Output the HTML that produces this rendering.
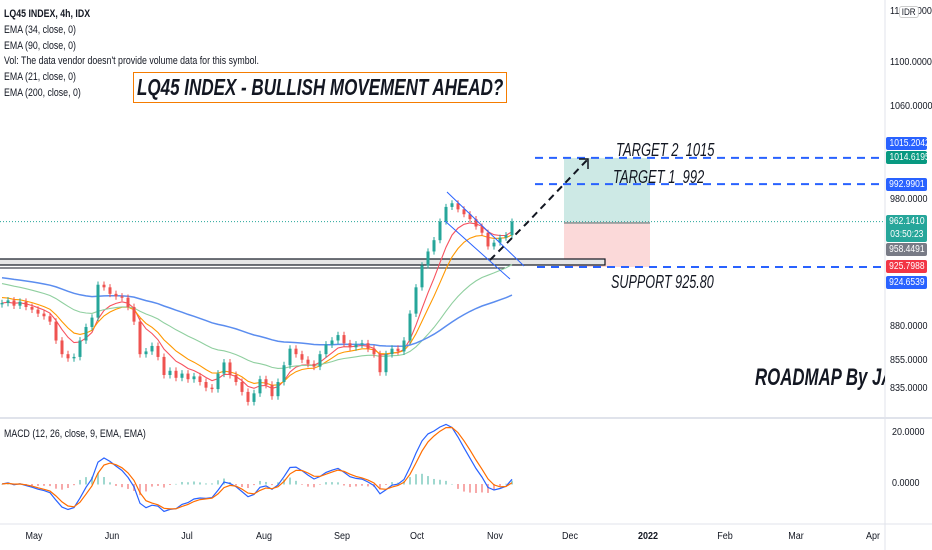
<!DOCTYPE html>
<html><head><meta charset="utf-8"><style>
html,body{margin:0;padding:0;background:#fff;}
#wrap{position:relative;width:932px;height:550px;overflow:hidden;font-family:"Liberation Sans",sans-serif;}
.lg{position:absolute;left:4px;font-size:11px;color:#131722;white-space:nowrap;transform:scaleX(0.8);transform-origin:left;}
.ax{position:absolute;font-size:10px;color:#131722;white-space:nowrap;transform:scaleX(0.9);transform-origin:left;}
.tm{position:absolute;font-size:10px;color:#131722;white-space:nowrap;transform:translateX(-50%) scaleX(0.9);}
.pl{position:absolute;left:886px;width:41px;font-size:10px;color:#fff;text-align:center;border-radius:2px;line-height:13px;overflow:hidden;}
.pl span{display:inline-block;transform:scaleX(0.85);}
.note{position:absolute;font-style:italic;color:#131722;white-space:nowrap;transform-origin:left;}
</style></head><body>
<div id="wrap">
<svg id="svg" width="932" height="550" style="position:absolute;left:0;top:0"></svg>

<div class="lg" style="top:8px;font-weight:bold">LQ45 INDEX, 4h, IDX</div>
<div class="lg" style="top:24px">EMA (34, close, 0)</div>
<div class="lg" style="top:40px">EMA (90, close, 0)</div>
<div class="lg" style="top:55px">Vol: The data vendor doesn't provide volume data for this symbol.</div>
<div class="lg" style="top:71px">EMA (21, close, 0)</div>
<div class="lg" style="top:87px">EMA (200, close, 0)</div>
<div class="lg" style="top:428px">MACD (12, 26, close, 9, EMA, EMA)</div>

<div style="position:absolute;left:133px;top:72px;width:372px;height:29px;border:1.5px solid #f57c00;background:#fff"></div>
<div class="note" style="left:137px;top:74px;font-size:23px;line-height:27px;font-weight:bold;transform:scaleX(0.74)">LQ45 INDEX - BULLISH MOVEMENT AHEAD?</div>
<div class="note" style="left:616px;top:140px;font-size:18px;transform:scaleX(0.72)">TARGET 2&nbsp; 1015</div>
<div class="note" style="left:613px;top:167px;font-size:18px;transform:scaleX(0.72)">TARGET 1&nbsp; 992</div>
<div class="note" style="left:611px;top:272px;font-size:18px;transform:scaleX(0.7)">SUPPORT 925.80</div>
<div style="position:absolute;left:0;top:360px;width:885px;height:40px;overflow:hidden"><div class="note" style="left:755px;top:4px;font-size:24px;font-weight:bold;transform:scaleX(0.7)">ROADMAP By JAGOCUAN</div></div>

<div class="ax" style="left:890px;top:6px">1150.0000</div>
<div class="ax" style="left:899px;top:6px;border:1px solid #ccc;border-radius:3px;background:#fff;padding:0 2px;font-size:9px">IDR</div>

<div class="pl" style="top:137px;background:#2962ff"><span>1015.2042</span></div>
<div class="pl" style="top:151px;background:#089981"><span>1014.6195</span></div>
<div class="pl" style="top:178px;background:#2962ff"><span>992.9901</span></div>
<div class="pl" style="top:215px;background:#26a69a;height:27px"><span>962.1410<br>03:50:23</span></div>
<div class="pl" style="top:243px;background:#787b86"><span>958.4491</span></div>
<div class="pl" style="top:260px;background:#f23645"><span>925.7988</span></div>
<div class="pl" style="top:276px;background:#2962ff"><span>924.6539</span></div>
</div>
<script>
// ---- data ----
const closes = [898,900,896,899,895,893,890,888,884,870,860,857,858,870,880,887,912,910,905,903,902,895,884,860,862,866,858,845,848,843,846,842,844,840,836,835,846,854,845,840,833,826,832,842,838,830,840,852,864,860,856,853,851,860,867,870,874,868,865,867,868,864,860,847,860,864,862,870,890,910,927,938,947,962,974,977,972,968,964,958,953,942,945,949,951,962];
const firstOpen = 897;
const emaPeriods = [21,34,90,200];
const emaSeeds = [898,903,914,918];
const emaColors = ['#f7525f','#ff9800','#8fcf9f','#5b8def'];
const priceTicks = [1100,1060,980,880,855,835];
const priceTickLabels = ['1100.0000','1060.0000','980.0000','880.0000','855.0000','835.0000'];
const macdTicks = [20,0];
const macdTickLabels = ['20.0000','0.0000'];
const months = ['May','Jun','Jul','Aug','Sep','Oct','Nov','Dec','2022','Feb','Mar','Apr'];
const monthDay = [0,31,61,92,123,153,184,214,245,276,304,335]; // days since May 1
const levels = [1015.2,992.99,925.8];
const barsPerScale = 3.3;

// ---- scales ----
const xBar = i => i*6 + 2;
const xDay = d => 34 + d*2.505;
const yP = p => 63 + (Math.log(1100) - Math.log(p))*1183;
const yM = v => 484 - v*2.55;

const NS='http://www.w3.org/2000/svg';
const svg=document.getElementById('svg');
function mk(tag,attrs,parent){const e=document.createElementNS(NS,tag);for(const k in attrs)e.setAttribute(k,attrs[k]);(parent||svg).appendChild(e);return e;}

let e;
e=mk('line',{x1:885,y1:0,x2:885,y2:550,stroke:'#e0e3eb'});


e=mk('line',{x1:0,y1:418,x2:932,y2:418,stroke:'#e0e3eb',"stroke-width":2});


e=mk('line',{x1:0,y1:524,x2:932,y2:524,stroke:'#e0e3eb'});



e=mk('rect',{x:564,y:yP(1015.2),width:86,height:yP(962.1)-yP(1015.2),fill:'#cde9e5'});


e=mk('rect',{x:564,y:yP(960),width:86,height:yP(925.8)-yP(960),fill:'#fbd9d9'});


e=mk('line',{x1:564,y1:yP(961),x2:650,y2:yP(961),stroke:'#9e9e9e',"stroke-width":2});



e=mk('rect',{x:-2,y:259,width:607,height:6,fill:'#e6e6e6',stroke:'#131722',"stroke-width":1.2});


e=mk('line',{x1:0,y1:268,x2:505,y2:268,stroke:'#131722',"stroke-width":1});



const last=closes[closes.length-1];
e=mk('line',{x1:0,y1:yP(last),x2:885,y2:yP(last),stroke:'#26a69a',"stroke-dasharray":'1 2',"stroke-width":1});



levels.forEach((lv,k)=>{
  const l=mk('line',{x1:k==2?537:535,y1:yP(lv),x2:885,y2:yP(lv),stroke:'#2962ff',"stroke-width":2,"stroke-dasharray":'8 6'});
  
  
});

emaPeriods.forEach((p,k)=>{
  const a=2/(p/barsPerScale+1);let v=emaSeeds[k];const pts=[];
  closes.forEach((c,i)=>{v=v+a*(c-v);pts.push(xBar(i)+','+yP(v).toFixed(1));});
  const pl=mk('polyline',{points:pts.join(' '),fill:'none',stroke:emaColors[k],"stroke-width":k==3?1.5:1.1});
  
  
});

closes.forEach((c,i)=>{
  const o=i==0?firstOpen:closes[i-1];
  const up=c>=o;const col=up?'#26a69a':'#ef5350';
  const hi=Math.max(o,c)+2.5, lo=Math.min(o,c)-2.5;
  const x=xBar(i);
  const w=mk('line',{x1:x,y1:yP(hi),x2:x,y2:yP(lo),stroke:col,"stroke-width":1});
  
  
  const top=yP(Math.max(o,c)),h=Math.max(1,yP(Math.min(o,c))-top);
  const b=mk('rect',{x:x-1.5,y:top,width:3,height:h,fill:col});
  
  
});

e=mk('line',{x1:447,y1:192,x2:524,y2:266,stroke:'#2962ff',"stroke-width":1});


e=mk('line',{x1:445,y1:221,x2:510,y2:279,stroke:'#2962ff',"stroke-width":1});



e=mk('polyline',{points:'490,260 526,224 588,159',fill:'none',stroke:'#131722',"stroke-width":2,"stroke-dasharray":'7 5'});


e=mk('polyline',{points:'579,159 588,159 588,169',fill:'none',stroke:'#131722',"stroke-width":1.5});



function emaArr(src,p){const a=2/(p/barsPerScale+1);let v=src[0];return src.map(c=>v=v+a*(c-v));}
const f=emaArr(closes,12),s=emaArr(closes,26);
const macd=f.map((v,i)=>v-s[i]);
const sig=emaArr(macd,9);
macd.forEach((m,i)=>{
  const h=m-sig[i];
  const r=mk('rect',{x:xBar(i)-1,y:Math.min(yM(h),yM(0)),width:2,height:Math.abs(yM(h)-yM(0))+0.5,fill:h>=0?'#9fd8cf':'#f7a9a9'});
  
  
});
e=mk('polyline',{points:macd.map((v,i)=>xBar(i)+','+yM(v).toFixed(1)).join(' '),fill:'none',stroke:'#2962ff',"stroke-width":1.2});


e=mk('polyline',{points:sig.map((v,i)=>xBar(i)+','+yM(v).toFixed(1)).join(' '),fill:'none',stroke:'#ff6d00',"stroke-width":1.2});



const wrap=document.getElementById('wrap');
priceTicks.forEach((p,i)=>{
  const d=document.createElement('div');d.className='ax';d.textContent=priceTickLabels[i];
  d.style.left='890px';d.style.top=(yP(p)-6)+'px';
  
  
  wrap.appendChild(d);
});
macdTicks.forEach((v,i)=>{
  const d=document.createElement('div');d.className='ax';d.textContent=macdTickLabels[i];
  d.style.left='892px';d.style.top=(yM(v)-6)+'px';
  
  
  wrap.appendChild(d);
});
months.forEach((m,i)=>{
  const d=document.createElement('div');d.className='tm';d.textContent=m;
  d.style.left=xDay(monthDay[i])+'px';d.style.top='531px';
  if(m==='2022')d.style.fontWeight='bold';
  
  
  wrap.appendChild(d);
});
</script>
</body></html>
